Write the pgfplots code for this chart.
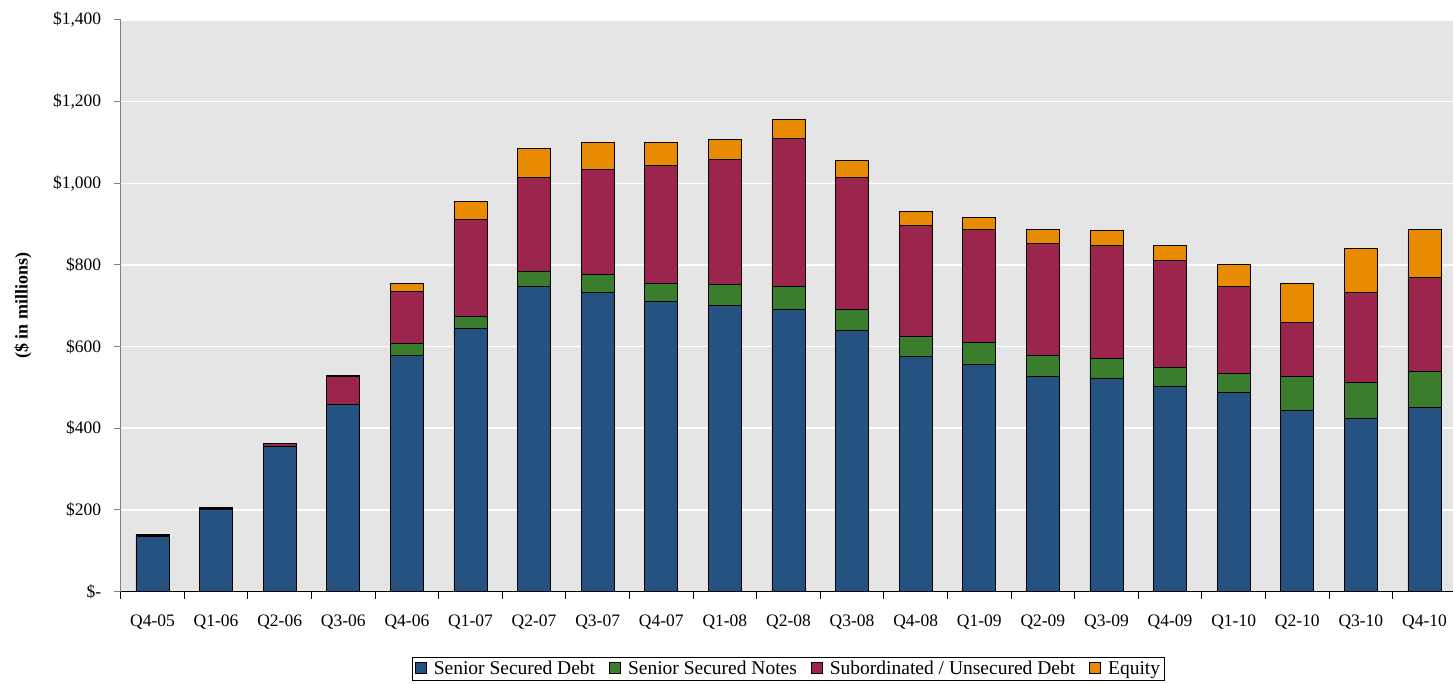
\documentclass[border=0pt]{standalone}
\usepackage{fontspec}
\setmainfont{Liberation Serif}
\usepackage{pgfplots}
\usepackage{pgfplotstable}
\pgfplotsset{compat=1.18}
\definecolor{cssd}{HTML}{265282}
\definecolor{cssn}{HTML}{3A7D2C}
\definecolor{csub}{HTML}{9C254E}
\definecolor{ceq}{HTML}{E98B00}
\definecolor{bgg}{HTML}{E5E5E5}
\pgfplotsset{sqlegend/.style={legend image code/.code={\draw[##1, line width=0.9pt] (0pt,-5pt) rectangle (11pt,6pt);}}}
\pgfplotstableread{
x ssd ssn sub eq
0 134 3 2 1
1 202 2 1 1
2 355 0 8 0
3 458 0 69 3
4 579 29 128 19
5 645 29 237 45
6 748 35 232 70
7 732 45 256 66
8 710 44 290 55
9 700 51 308 48
10 692 56 362 46
11 640 52 323 41
12 575 51 271 34
13 557 52 278 30
14 527 51 275 34
15 521 51 275 37
16 502 47 261 37
17 487 48 213 54
18 443 84 133 95
19 425 87 220 108
20 451 87 232 117
}\datatable
\begin{document}
\begin{tikzpicture}
\path[use as bounding box] (-120.7pt,-91.5pt) rectangle (1332.3pt,591.5pt);
\begin{axis}[
  at={(0,0)}, anchor=south west, scale only axis,
  width=1335.6pt, height=571.5pt,
  ybar stacked, bar width=33pt,
  xmin=-0.5, xmax=20.5, ymin=0, ymax=1400,
  axis x line*=bottom, axis y line*=left, axis line style={-},
  x axis line style={black, line width=1pt},
  y axis line style={gray, line width=1pt},
  axis background/.style={fill=bgg},
  ymajorgrids, grid style={white, line width=1.5pt},
  ytick={0,200,...,1400},
  yticklabels={\$-,\$200,\$400,\$600,\$800,{\$1,000},{\$1,200},{\$1,400}},
  xtick={-0.5,0.5,...,20.5},
  xticklabels={Q4-05,Q1-06,Q2-06,Q3-06,Q4-06,Q1-07,Q2-07,Q3-07,Q4-07,Q1-08,Q2-08,Q3-08,Q4-08,Q1-09,Q2-09,Q3-09,Q4-09,Q1-10,Q2-10,Q3-10,Q4-10},
  x tick label as interval,
  tick align=outside,
  major tick length=7pt,
  xtick style={black, line width=1pt},
  ytick style={gray, line width=1pt},
  tick label style={font=\fontsize{17.5pt}{20pt}\selectfont},
  yticklabel style={xshift=-9pt},
  xticklabel style={yshift=-13pt},
  ylabel={(\$ in millions)},
  ylabel style={font=\bfseries\fontsize{18pt}{20pt}\selectfont, at={(axis description cs:-0.0731,0.5)}, anchor=center},
  legend style={at={(axis description cs:0.5,0)}, anchor=north, yshift=-65.5pt,
    legend columns=4, draw=black, line width=0.8pt, fill=white,
    font=\fontsize{19.5pt}{22pt}\selectfont, inner sep=2pt,
    /tikz/every odd column/.append style={column sep=5pt},
    /tikz/every even column/.append style={column sep=12pt}},
]
\addplot[fill=cssd, draw=black, line width=0.9pt, sqlegend] table[x=x,y=ssd]{\datatable};
\addplot[fill=cssn, draw=black, line width=0.9pt, sqlegend] table[x=x,y=ssn]{\datatable};
\addplot[fill=csub, draw=black, line width=0.9pt, sqlegend] table[x=x,y=sub]{\datatable};
\addplot[fill=ceq, draw=black, line width=0.9pt, sqlegend] table[x=x,y=eq]{\datatable};
\legend{Senior Secured Debt,Senior Secured Notes,Subordinated / Unsecured Debt,Equity}
\end{axis}
\end{tikzpicture}
\end{document}
